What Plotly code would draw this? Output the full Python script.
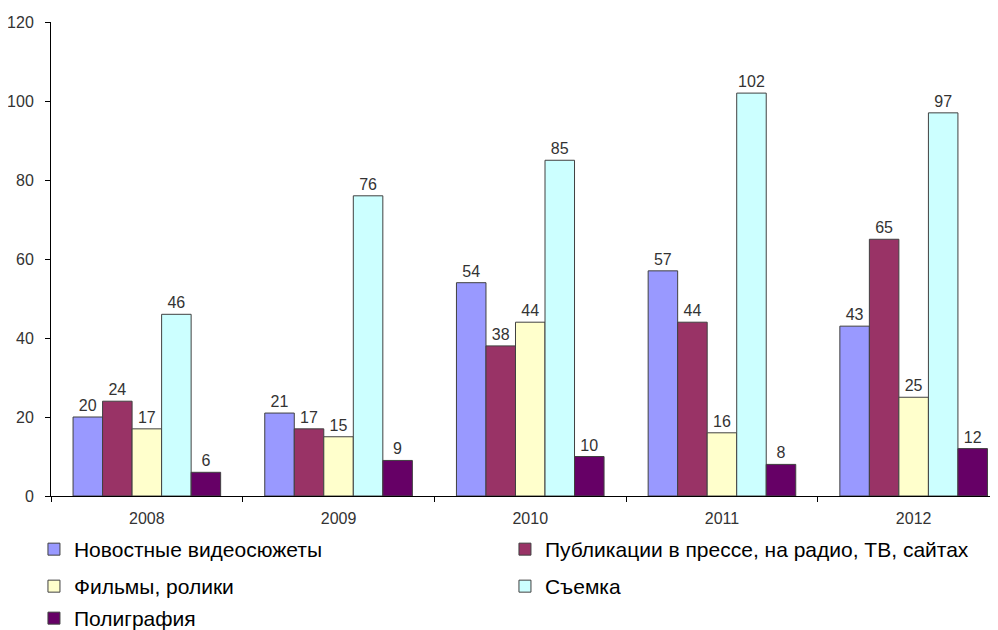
import plotly.graph_objects as go

years = ["2008", "2009", "2010", "2011", "2012"]
series_names = [
    "Новостные видеосюжеты",
    "Публикации в прессе, на радио, ТВ, сайтах",
    "Фильмы, ролики",
    "Съемка",
    "Полиграфия",
]
news = [20, 21, 54, 57, 43]
publications = [24, 17, 38, 44, 65]
films = [17, 15, 44, 16, 25]
shooting = [46, 76, 85, 102, 97]
printing = [6, 9, 10, 8, 12]
colors = ["#9999FF", "#993366", "#FFFFCC", "#CCFFFF", "#660066"]
legend_rows = ["legend", "legend", "legend2", "legend2", "legend3"]

fig = go.Figure()
for name, vals, col, lg in zip(series_names, [news, publications, films, shooting, printing], colors, legend_rows):
    fig.add_trace(go.Bar(
        x=years, y=vals, name=name, legend=lg,
        marker=dict(color=col, line=dict(color="#404040", width=1)),
        text=vals, textposition="outside", cliponaxis=False,
        textfont=dict(family="Liberation Sans, Arial", size=16, color="#333333"),
    ))

plot_h = 474.0
def leg(y_px):
    return dict(
        orientation="h", x=-0.018, y=-y_px / plot_h, xanchor="left", yanchor="top",
        entrywidth=426, entrywidthmode="pixels",
        font=dict(size=21, color="#000000"),
        traceorder="normal", bgcolor="rgba(0,0,0,0)",
    )

fig.update_layout(
    width=990, height=622,
    margin=dict(l=43, r=0, t=14, b=134, autoexpand=False),
    paper_bgcolor="white", plot_bgcolor="white",
    barmode="group", bargap=0.23, bargroupgap=0,
    font=dict(family="Liberation Sans, Arial", color="#333333"),
    showlegend=True,
    legend=leg(33),
    legend2=leg(70),
    legend3=leg(102),
)
fig.update_xaxes(
    type="category", range=[-0.5, 4.44],
    showline=True, linecolor="#000000", linewidth=1,
    ticks="outside", ticklen=5, tickcolor="#000000", tickson="boundaries",
    tickfont=dict(size=16, color="#333333"), ticklabelstandoff=8,
    showgrid=False,
)
fig.update_yaxes(
    range=[0, 120], dtick=20,
    showline=True, linecolor="#000000", linewidth=1,
    ticks="outside", ticklen=5, tickcolor="#000000",
    tickfont=dict(size=16, color="#333333"), ticklabelstandoff=8,
    showgrid=False, zeroline=False,
)

fig.write_html("out.html")
